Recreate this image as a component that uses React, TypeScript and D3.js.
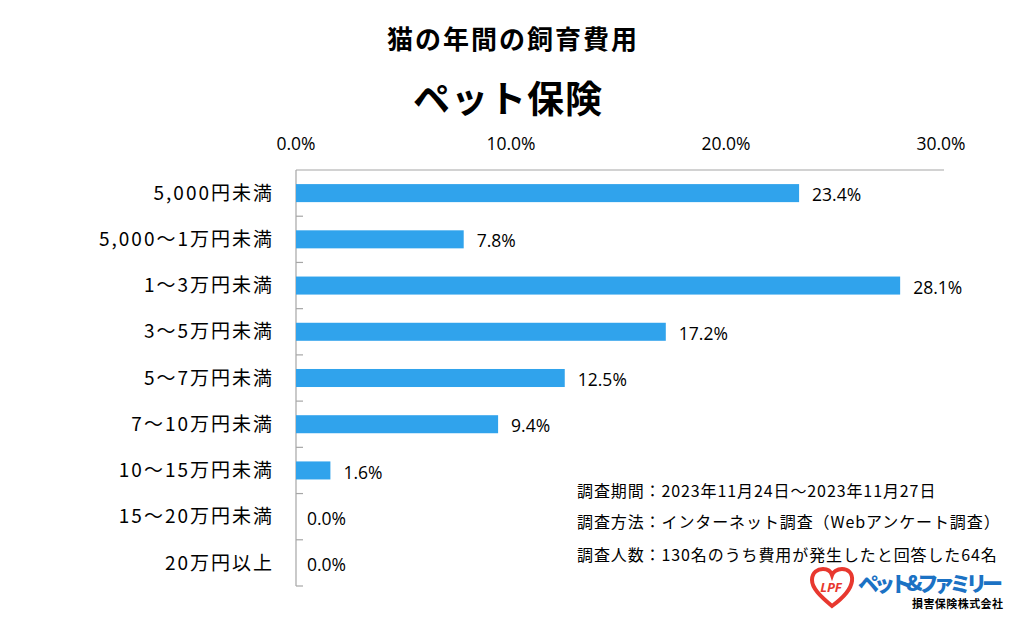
import React from "react";
import * as d3 from "d3";

const categories = [
  "5,000円未満",
  "5,000～1万円未満",
  "1～3万円未満",
  "3～5万円未満",
  "5～7万円未満",
  "7～10万円未満",
  "10～15万円未満",
  "15～20万円未満",
  "20万円以上",
];
const values = [23.4, 7.8, 28.1, 17.2, 12.5, 9.4, 1.6, 0.0, 0.0];
const xTicks = [0, 10, 20, 30];
const notes = [
  "調査期間：2023年11月24日～2023年11月27日",
  "調査方法：インターネット調査（Webアンケート調査）",
  "調査人数：130名のうち費用が発生したと回答した64名",
];

const JP = "'Noto Sans CJK JP', 'Noto Sans', sans-serif";
const NUM = "'Open Sans', 'Noto Sans', sans-serif";

export default function App() {
  const W = 1024;
  const H = 621;
  const left = 296;
  const right = 941;
  const top = 170;
  const bottom = 586;
  const x = d3.scaleLinear().domain([0, 30]).range([left, right]);
  const y = d3
    .scaleBand<string>()
    .domain(categories)
    .range([top, bottom])
    .paddingInner(0.61)
    .paddingOuter(0.305);
  const step = y.step();
  const boundaries = d3.range(1, categories.length).map((i) => top + i * step);

  return (
    <svg
      width={W}
      height={H}
      style={{ position: "absolute", left: 0, top: 0, background: "#fff" }}
    >
      <rect x={0} y={0} width={W} height={H} fill="#fff" />
      <text x={513} y={49} textAnchor="middle" fontFamily={JP} fontWeight={700} fontSize={26} letterSpacing={2} fill="#000">
        猫の年間の飼育費用
      </text>
      <text x={508} y={113} textAnchor="middle" fontFamily={JP} fontWeight={700} fontSize={37} letterSpacing={1} fill="#000">
        ペット保険
      </text>

      {xTicks.map((t) => (
        <text key={t} x={x(t)} y={150} textAnchor="middle" fontFamily={NUM} fontSize={17.5} fill="#000">
          {t.toFixed(1)}%
        </text>
      ))}

      <line x1={left} x2={944} y1={top} y2={top} stroke="#a6a6a6" strokeWidth={1.2} />
      <line x1={left} x2={left} y1={top} y2={bottom} stroke="#a6a6a6" strokeWidth={1.2} />
      {boundaries.map((b, i) => (
        <line key={i} x1={left} x2={left + 7} y1={b} y2={b} stroke="#a6a6a6" strokeWidth={1.2} />
      ))}
      <line x1={left} x2={left + 7} y1={bottom} y2={bottom} stroke="#a6a6a6" strokeWidth={1.2} />

      {categories.map((c, i) => (
        <g key={c}>
          <rect
            x={x(0)}
            y={y(c)!}
            width={Math.max(0, x(values[i]) - x(0))}
            height={y.bandwidth()}
            fill="#30a3ec"
          />
          <text
            x={274}
            y={y(c)! + y.bandwidth() / 2}
            dy="0.35em"
            textAnchor="end"
            fontFamily={JP}
            fontSize={19}
            letterSpacing={2}
            fill="#000"
          >
            {c}
          </text>
          <text
            x={x(values[i]) + (values[i] > 0 ? 13 : 11)}
            y={y(c)! + y.bandwidth() / 2 + 2}
            dy="0.35em"
            fontFamily={NUM}
            fontSize={17.5}
            fill="#000"
          >
            {values[i].toFixed(1)}%
          </text>
        </g>
      ))}

      {notes.map((n, i) => (
        <text key={i} x={577} y={[497, 528, 561][i]} fontFamily={JP} fontSize={16} letterSpacing={0.9} fill="#000">
          {n}
        </text>
      ))}

      <g>
        <path
          d="M832,606 C820,596 812,588 812,580 C812,572 818,569 823,569 C828,569 831,572 832,575 C833,572 837,569 842,569 C848,569 853,573 852,581 C851,589 843,598 832,606 Z"
          fill="none"
          stroke="#e8382f"
          strokeWidth={4}
        />
        <text x={831} y={592} textAnchor="middle" fontFamily={NUM} fontWeight={700} fontSize={13} fill="#e8382f" fontStyle="italic">
          LPF
        </text>
        <text x={858} y={591} fontFamily={JP} fontWeight={900} fontSize={21} fill="#1b72c4" textLength={145}>
          ペット&ファミリー
        </text>
        <text x={912} y={608} fontFamily={JP} fontWeight={700} fontSize={11} fill="#000" textLength={91}>
          損害保険株式会社
        </text>
      </g>
    </svg>
  );
}
